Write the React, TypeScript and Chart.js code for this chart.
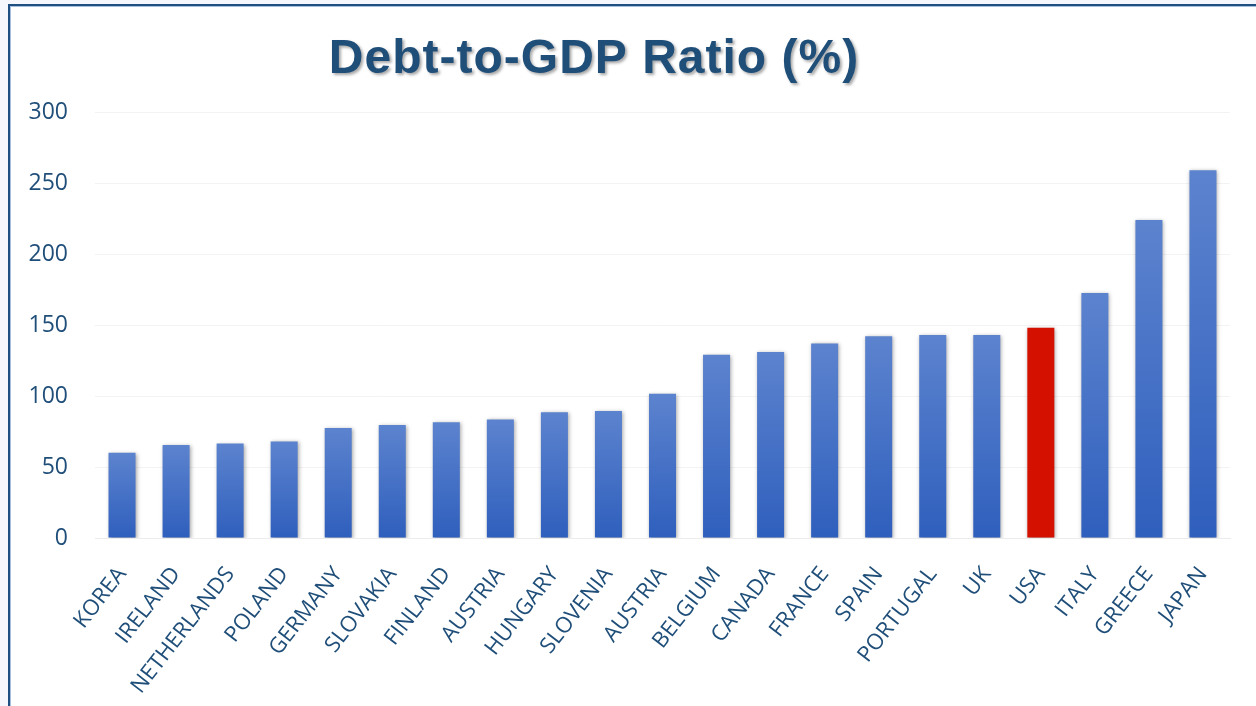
import React, { useEffect, useRef } from "react";
import { Chart, registerables } from "chart.js";

Chart.register(...registerables);

const titleText = "Debt-to-GDP Ratio (%)";
const countries = [
  "KOREA", "IRELAND", "NETHERLANDS", "POLAND", "GERMANY", "SLOVAKIA", "FINLAND",
  "AUSTRIA", "HUNGARY", "SLOVENIA", "AUSTRIA", "BELGIUM", "CANADA", "FRANCE",
  "SPAIN", "PORTUGAL", "UK", "USA", "ITALY", "GREECE", "JAPAN",
];
const debtRatio = [
  60, 65.5, 66.5, 68, 77.5, 79.5, 81.5, 83.5, 88.5, 89.5, 101.5, 129, 131, 137,
  142, 143, 143, 148, 172.5, 224, 259,
];
const highlightCountry = "USA";
const yMin = 0;
const yMax = 300;
const yStep = 50;

export default function App() {
  const ref = useRef<HTMLCanvasElement>(null);

  useEffect(() => {
    const canvas = ref.current;
    if (!canvas) return;

    const framePlugin = {
      id: "frame",
      beforeDraw(chart: any) {
        const ctx = chart.ctx;
        const w = chart.width;
        const h = chart.height;
        ctx.save();
        ctx.fillStyle = "#ffffff";
        ctx.fillRect(0, 0, w, h);
        ctx.fillStyle = "#f6f7fd";
        ctx.fillRect(0, 0, 8, h);
        ctx.fillRect(0, 0, w, 4);
        ctx.fillStyle = "#1f4e80";
        ctx.fillRect(8, 4, 2, h - 4);
        ctx.fillRect(8, 4, w - 8, 2);
        ctx.fillStyle = "#a9bfdf";
        ctx.fillRect(10, 6, 1, h - 6);
        ctx.fillRect(10, 6, w - 10, 1);
        ctx.restore();
      },
    };

    const titlePlugin = {
      id: "titleText",
      afterDraw(chart: any) {
        const ctx = chart.ctx;
        ctx.save();
        ctx.font = "bold 48px 'Liberation Sans', Arial, sans-serif";
        try {
          (ctx as any).letterSpacing = "1px";
        } catch (e) {}
        ctx.textAlign = "center";
        ctx.textBaseline = "alphabetic";
        ctx.shadowColor = "rgba(0,0,0,0.35)";
        ctx.shadowBlur = 3;
        ctx.shadowOffsetX = 2;
        ctx.shadowOffsetY = 2;
        ctx.fillStyle = "#1f4e79";
        ctx.fillText(titleText, 594, 73);
        ctx.restore();
      },
    };

    const shadowPlugin = {
      id: "barShadow",
      beforeDatasetsDraw(chart: any) {
        const ctx = chart.ctx;
        ctx.save();
        ctx.shadowColor = "rgba(0,0,0,0.35)";
        ctx.shadowBlur = 4;
        ctx.shadowOffsetX = 1;
        ctx.shadowOffsetY = 1;
      },
      afterDatasetsDraw(chart: any) {
        chart.ctx.restore();
      },
    };

    const barColor = (c: any) => {
      const i = c.dataIndex;
      if (i === undefined) return "#4472c4";
      if (countries[i] === highlightCountry) return "#d41100";
      const chart = c.chart;
      const ys = chart.scales && chart.scales.y;
      if (!ys || !chart.chartArea) return "#4472c4";
      const top = ys.getPixelForValue(debtRatio[i]);
      const bot = ys.getPixelForValue(0);
      if (!isFinite(top) || !isFinite(bot) || top === bot) return "#4472c4";
      const g = chart.ctx.createLinearGradient(0, top, 0, bot);
      g.addColorStop(0, "#5c83ce");
      g.addColorStop(1, "#2f5fbd");
      return g;
    };

    const chart = new Chart(canvas, {
      type: "bar",
      data: {
        labels: countries,
        datasets: [
          {
            data: debtRatio,
            backgroundColor: barColor,
            borderWidth: 0,
            barPercentage: 0.5,
            categoryPercentage: 1,
          },
        ],
      },
      options: {
        animation: false,
        responsive: true,
        maintainAspectRatio: false,
        layout: { padding: { left: 0, right: 26, top: 112, bottom: 0 } },
        plugins: {
          legend: { display: false },
          tooltip: { enabled: false },
          title: { display: false },
        },
        scales: {
          x: {
            grid: { display: false },
            border: { display: true, color: "#ececec", width: 1 },
            ticks: {
              autoSkip: false,
              minRotation: 52,
              maxRotation: 52,
              padding: 16,
              color: "#1f4e79",
              font: { family: "'Open Sans', sans-serif", size: 22 },
            },
            afterFit(scale: any) {
              scale.height = 706 - 538;
            },
          },
          y: {
            min: yMin,
            max: yMax,
            grid: { color: "#f3f3f3", drawTicks: false },
            border: { display: false },
            ticks: {
              stepSize: yStep,
              padding: 27,
              color: "#1f4e79",
              font: { family: "'Open Sans', sans-serif", size: 23 },
            },
            afterFit(scale: any) {
              scale.width = 95;
            },
          },
        },
      },
      plugins: [framePlugin, shadowPlugin, titlePlugin],
    });

    return () => chart.destroy();
  }, []);

  return (
    <div style={{ position: "fixed", left: 0, top: 0, width: 1256, height: 706 }}>
      <canvas ref={ref} />
    </div>
  );
}
